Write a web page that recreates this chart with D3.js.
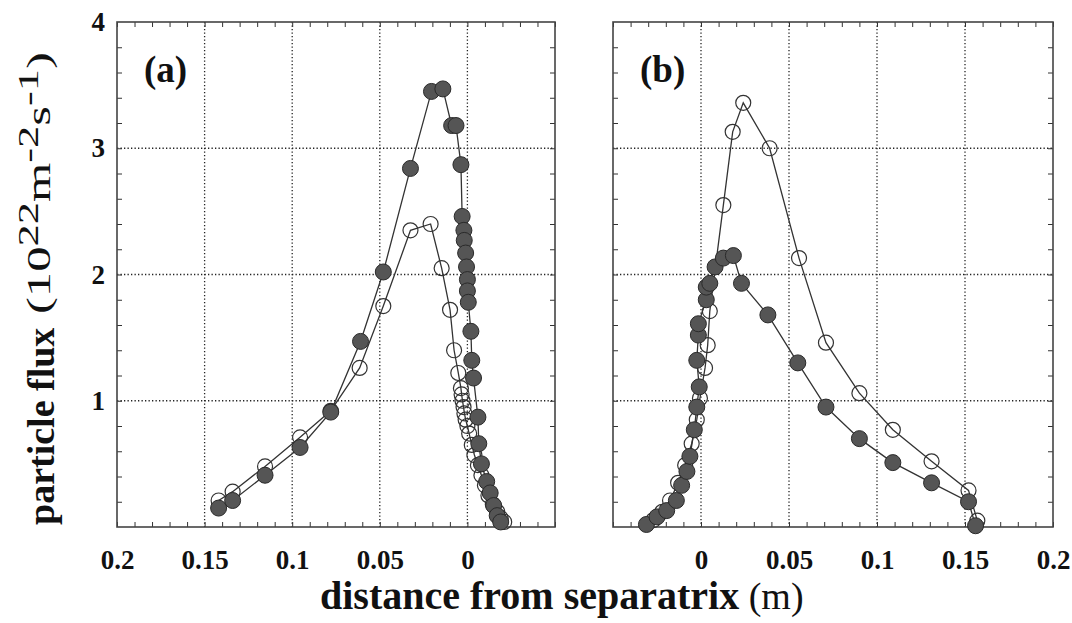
<!DOCTYPE html>
<html>
<head>
<meta charset="utf-8">
<script src="https://cdnjs.cloudflare.com/ajax/libs/d3/7.8.5/d3.min.js"></script>
<style>
  body { margin: 0; background: #fff; }
  svg { display: block; }
</style>
</head>
<body>
<div id="chart"></div>
<script>
'use strict';

// data: [distance (m), particle flux (1e22 m^-2 s^-1)]
var aFilled = [
  [0.142, 0.15], [0.134, 0.21], [0.1155, 0.41], [0.0955, 0.63], [0.078, 0.91],
  [0.061, 1.47], [0.048, 2.02], [0.0325, 2.84], [0.0205, 3.45], [0.014, 3.47],
  [0.009, 3.18], [0.0065, 3.18], [0.0037, 2.87], [0.003, 2.46], [0.002, 2.35],
  [0.0018, 2.27], [0.001, 2.17], [0.0005, 2.06], [0, 1.96], [0, 1.87],
  [-0.0005, 1.78], [-0.002, 1.55], [-0.0025, 1.32], [-0.0035, 1.18], [-0.006, 0.87],
  [-0.0065, 0.66], [-0.008, 0.50], [-0.011, 0.36], [-0.013, 0.27], [-0.015, 0.17],
  [-0.017, 0.09], [-0.019, 0.04]
];
var aOpen = [
  [0.142, 0.21], [0.134, 0.28], [0.1155, 0.48], [0.0955, 0.71], [0.078, 0.92],
  [0.0615, 1.26], [0.048, 1.75], [0.0325, 2.35], [0.021, 2.40], [0.0147, 2.05],
  [0.0099, 1.72], [0.0076, 1.40], [0.0052, 1.22], [0.0037, 1.10], [0.0033, 1.05],
  [0.0028, 1.00], [0.0022, 0.95], [0.0017, 0.90], [0.001, 0.85], [0, 0.80],
  [-0.001, 0.74], [-0.0025, 0.65], [-0.004, 0.57], [-0.006, 0.49], [-0.008, 0.41],
  [-0.010, 0.33], [-0.012, 0.25], [-0.0145, 0.18], [-0.017, 0.12], [-0.019, 0.07],
  [-0.021, 0.04]
];
var bFilled = [
  [-0.031, 0.02], [-0.025, 0.08], [-0.0195, 0.13], [-0.014, 0.21], [-0.011, 0.33],
  [-0.008, 0.44], [-0.0063, 0.56], [-0.0038, 0.77], [-0.0024, 0.95], [-0.001, 1.11],
  [-0.0024, 1.32], [-0.0015, 1.52], [-0.0015, 1.61], [0.003, 1.80], [0.003, 1.90],
  [0.005, 1.93], [0.008, 2.06], [0.0127, 2.13], [0.0184, 2.15], [0.023, 1.93],
  [0.038, 1.68], [0.055, 1.30], [0.071, 0.95], [0.09, 0.70], [0.109, 0.51],
  [0.131, 0.35], [0.152, 0.20], [0.156, 0.01]
];
var bOpen = [
  [-0.027, 0.055], [-0.022, 0.12], [-0.0176, 0.21], [-0.013, 0.35], [-0.009, 0.49],
  [-0.0053, 0.66], [-0.0024, 0.85], [-0.0006, 1.02], [0.0023, 1.26], [0.0038, 1.44],
  [0.005, 1.71], [0.0127, 2.55], [0.018, 3.13], [0.024, 3.36], [0.039, 3.00],
  [0.0557, 2.13], [0.071, 1.46], [0.09, 1.06], [0.109, 0.77], [0.131, 0.52],
  [0.152, 0.29], [0.157, 0.05]
];

var xTicksA = [0.2, 0.15, 0.1, 0.05, 0];
var xTicksB = [0, 0.05, 0.1, 0.15, 0.2];
var yTicks = [1, 2, 3, 4];

//constants
var width = 1072,
  height = 623,
  plotTop = 22,
  plotBottom = 527;

var font = '"Liberation Serif", "Times New Roman", serif';

var svg = d3.select('#chart')
  .append('svg')
  .attr('width', width)
  .attr('height', height);

var y = d3.scaleLinear().domain([0, 4]).range([plotBottom, plotTop]);

var xa = d3.scaleLinear().domain([0.2, -0.05]).range([117, 555]);
var xb = d3.scaleLinear().domain([-0.05, 0.2]).range([613, 1053]);

function fmt(d) { return String(+d.toFixed(2)); }

function drawPanel(x, filled, open, label, xTicks, showY) {
  var x0 = x.range()[0], x1 = x.range()[1];
  var g = svg.append('g');

  // dotted grid at the major ticks
  var gx = d3.range(-0.05, 0.2001, 0.05).filter(function (v) {
    var p = x(v); return p > x0 + 2 && p < x1 - 2;
  });
  g.append('g').selectAll('line').data(gx).enter().append('line')
    .attr('x1', function (d) { return x(d); })
    .attr('x2', function (d) { return x(d); })
    .attr('y1', plotTop).attr('y2', plotBottom)
    .attr('stroke', '#222').attr('stroke-width', 1.3)
    .attr('stroke-dasharray', '1.3,2.2');
  g.append('g').selectAll('line').data([1, 2, 3]).enter().append('line')
    .attr('x1', x0).attr('x2', x1)
    .attr('y1', function (d) { return y(d); })
    .attr('y2', function (d) { return y(d); })
    .attr('stroke', '#222').attr('stroke-width', 1.3)
    .attr('stroke-dasharray', '1.3,2.2');

  // inward minor ticks on all four sides
  var minorX = d3.range(-5, 21).map(function (i) { return i / 100; });
  var minorY = d3.range(1, 20).map(function (i) { return i / 5; });
  var ax = function (gen, ty) {
    g.append('g')
      .attr('transform', 'translate(0,' + ty + ')')
      .call(gen.tickValues(minorX).tickSize(5).tickFormat(''))
      .call(function (s) { s.select('.domain').remove(); })
      .selectAll('line').attr('stroke', '#333').attr('stroke-width', 1);
  };
  ax(d3.axisTop(x), plotBottom);
  ax(d3.axisBottom(x), plotTop);
  var ay = function (gen, tx) {
    g.append('g')
      .attr('transform', 'translate(' + tx + ',0)')
      .call(gen.tickValues(minorY).tickSize(5).tickFormat(''))
      .call(function (s) { s.select('.domain').remove(); })
      .selectAll('line').attr('stroke', '#333').attr('stroke-width', 1);
  };
  ay(d3.axisRight(y), Math.min(x0, x1));
  ay(d3.axisLeft(y), Math.max(x0, x1));

  // frame
  g.append('rect')
    .attr('x', Math.min(x0, x1)).attr('y', plotTop)
    .attr('width', Math.abs(x1 - x0)).attr('height', plotBottom - plotTop)
    .attr('fill', 'none').attr('stroke', '#444').attr('stroke-width', 1.6);

  // tick labels
  var xl = g.append('g')
    .attr('transform', 'translate(0,' + plotBottom + ')')
    .call(d3.axisBottom(x).tickValues(xTicks).tickSize(0).tickPadding(23).tickFormat(fmt));
  xl.select('.domain').remove();
  xl.selectAll('text')
    .attr('font-family', font).attr('font-weight', 'bold')
    .attr('font-size', '27px').attr('fill', '#111');

  if (showY) {
    var yl = g.append('g')
      .attr('transform', 'translate(' + Math.min(x0, x1) + ',0)')
      .call(d3.axisLeft(y).tickValues(yTicks).tickSize(0).tickPadding(12).tickFormat(d3.format('d')));
    yl.select('.domain').remove();
    yl.selectAll('text')
      .attr('font-family', font).attr('font-weight', 'bold')
      .attr('font-size', '27px').attr('fill', '#111');
  }

  var line = d3.line()
    .x(function (d) { return x(d[0]); })
    .y(function (d) { return y(d[1]); });

  [open, filled].forEach(function (data) {
    g.append('path')
      .datum(data)
      .attr('d', line)
      .attr('fill', 'none')
      .attr('stroke', '#333')
      .attr('stroke-width', 1.3);
  });

  g.append('g').selectAll('circle').data(open).enter().append('circle')
    .attr('cx', function (d) { return x(d[0]); })
    .attr('cy', function (d) { return y(d[1]); })
    .attr('r', 7.5)
    .attr('fill', 'none')
    .attr('stroke', '#333')
    .attr('stroke-width', 1.2);

  g.append('g').selectAll('circle').data(filled).enter().append('circle')
    .attr('cx', function (d) { return x(d[0]); })
    .attr('cy', function (d) { return y(d[1]); })
    .attr('r', 8)
    .attr('fill', '#555')
    .attr('stroke', '#2a2a2a')
    .attr('stroke-width', 1);

  g.append('text')
    .attr('x', Math.min(x0, x1) + 27)
    .attr('y', 82)
    .attr('font-family', font).attr('font-weight', 'bold')
    .attr('font-size', '37px').attr('fill', '#111')
    .text(label);
}

drawPanel(xa, aFilled, aOpen, '(a)', xTicksA, true);
drawPanel(xb, bFilled, bOpen, '(b)', xTicksB, false);

// axis titles
var xt = svg.append('text')
  .attr('x', 320).attr('y', 609)
  .attr('font-family', font).attr('fill', '#111');
xt.append('tspan').attr('font-weight', 'bold').attr('font-size', '40px')
  .text('distance from separatrix');
xt.append('tspan').attr('font-size', '38px').text(' (m)');

var yt = svg.append('text')
  .attr('transform', 'translate(54,525) rotate(-90)')
  .attr('font-family', font).attr('font-weight', 'bold')
  .attr('font-size', '38px').attr('fill', '#111')
  .text('particle flux');

// units, stretched to the length they take in the figure
var yu = svg.append('text')
  .attr('transform', 'translate(50,314) rotate(-90)')
  .attr('font-family', font).attr('fill', '#111')
  .attr('textLength', 262).attr('lengthAdjust', 'spacingAndGlyphs');
yu.append('tspan').attr('font-size', '33px').text('(10');
yu.append('tspan').attr('font-size', '29px').attr('dy', -12).text('22');
yu.append('tspan').attr('font-size', '33px').attr('dy', 12).text('m');
yu.append('tspan').attr('font-size', '29px').attr('dy', -12).text('-2');
yu.append('tspan').attr('font-size', '33px').attr('dy', 12).text('s');
yu.append('tspan').attr('font-size', '29px').attr('dy', -12).text('-1');
yu.append('tspan').attr('font-size', '33px').attr('dy', 12).text(')');
</script>
</body>
</html>
